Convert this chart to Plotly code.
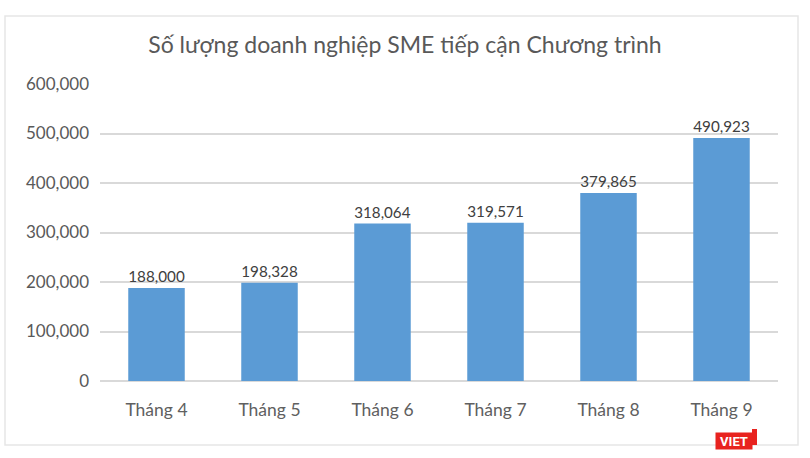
import plotly.graph_objects as go

categories = ["Tháng 4", "Tháng 5", "Tháng 6", "Tháng 7", "Tháng 8", "Tháng 9"]
values = [188000, 198328, 318064, 319571, 379865, 490923]
y_ticks = [0, 100000, 200000, 300000, 400000, 500000, 600000]
y_tick_labels = ["0", "100,000", "200,000", "300,000", "400,000", "500,000", "600,000"]
title_text = "Số lượng doanh nghiệp SME tiếp cận Chương trình"

FONT = "Lato, sans-serif"
W, H = 810, 458
L, R, T, B = 100, 32, 84, 77
PW, PH = W - L - R, H - T - B


def px(x):
    return (x - L) / PW


def py(y):
    return (H - B - y) / PH


fig = go.Figure(go.Bar(
    x=categories, y=values,
    marker=dict(color="#5B9BD5", line=dict(width=0)),
    text=[f"{v:,}" for v in values],
    textposition="outside",
    textfont=dict(family=FONT, size=20, color="#404040"),
    cliponaxis=False,
))

fig.update_layout(
    width=W, height=H,
    margin=dict(l=L, r=R, t=T, b=B, autoexpand=False),
    paper_bgcolor="white", plot_bgcolor="white",
    bargap=0.5,
    showlegend=False,
    title=dict(text=title_text, x=0.5, xanchor="center", y=1 - 45 / H, yanchor="middle",
               font=dict(family=FONT, size=23, color="#595959")),
    xaxis=dict(showgrid=False, showline=False, ticks="", ticklabelstandoff=16,
               tickfont=dict(family=FONT, size=17.5, color="#606060")),
    yaxis=dict(range=[0, 600000], tickvals=y_ticks, ticktext=y_tick_labels,
               showgrid=True, gridcolor="#D9D9D9", gridwidth=1.5,
               zeroline=True, zerolinecolor="#D9D9D9", zerolinewidth=1.5,
               showline=False, ticks="", ticklabelstandoff=10,
               tickfont=dict(family=FONT, size=17, color="#595959")),
)

# chart border
fig.add_shape(type="rect", xref="paper", yref="paper",
              x0=px(5), x1=px(798), y0=py(445), y1=py(16),
              line=dict(color="#E6E6E6", width=1.5), fillcolor="rgba(0,0,0,0)", layer="below")

# watermark
fig.add_shape(type="rect", xref="paper", yref="paper",
              x0=px(752), x1=px(757), y0=py(445), y1=py(429),
              line=dict(width=0), fillcolor="#E8231F", layer="above")
fig.add_annotation(xref="paper", yref="paper",
                   x=px(733.5), y=py(441), xanchor="center", yanchor="middle",
                   text="<b>VIET</b>", showarrow=False, bgcolor="#E8231F",
                   borderpad=1, width=34, height=14,
                   font=dict(family="Roboto, sans-serif", size=13, color="white"))

fig.write_html("out.html", config={"displayModeBar": False},
               post_script="document.body.style.margin='0';document.body.style.overflow='hidden';")
